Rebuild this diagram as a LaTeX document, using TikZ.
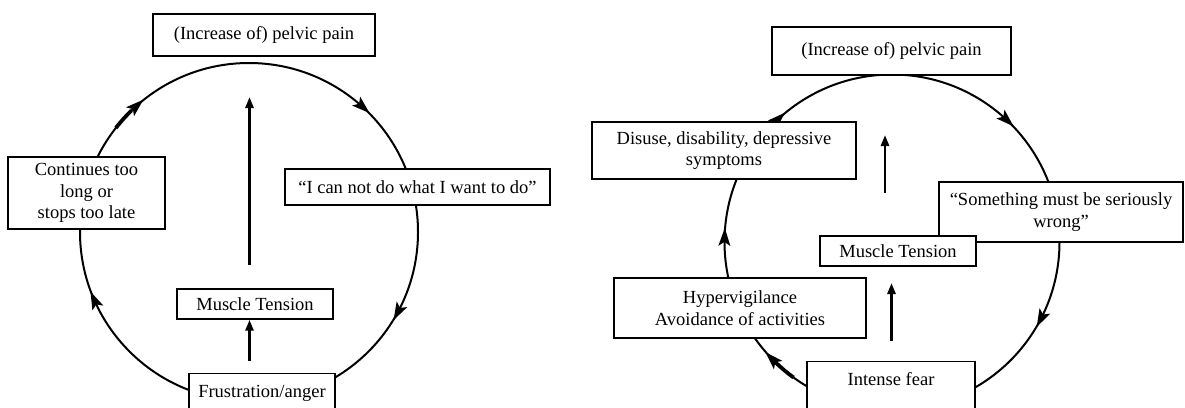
\documentclass[tikz,border=0pt]{standalone}
\usepackage{fontspec}
\setmainfont{Liberation Serif}
\usetikzlibrary{arrows.meta}
\begin{document}
\begin{tikzpicture}[x=1pt,y=-1pt,
  box/.style={draw, line width=1.4pt, fill=white, inner sep=0pt, align=center,
    font=\fontsize{18.5}{21.7}\selectfont},
  loop/.style={line width=2pt},
  tail/.style={line width=3.8pt},
  rise/.style={line width=2.6pt, -{Triangle[length=11pt,width=8pt]}}]
\clip (0,0) rectangle (1185,407);

% clockwise arrowhead on a circle of radius #3 (pt) round #1, at angle #2
\newcommand\cwhead[3]{%
  \fill[shift={(#1)}, rotate=#2]
    (#3pt,-10pt) -- (#3pt+6pt,8pt) -- (#3pt,4pt) -- (#3pt-6pt,8pt) -- cycle;}

% ---------- left cycle: frustration / anger ----------
\coordinate (L) at (249,232);
\draw[loop] (L) circle (169pt);
\foreach \a in {132,48,-28,204} { \cwhead{L}{\a}{169} }
\draw[tail] (L) ++(142:169pt) arc[start angle=142, end angle=134, radius=169pt];

\node[box, minimum width=222, minimum height=42] (painL) at (264,35) {(Increase of) pelvic pain};
\node[box, minimum width=157, minimum height=72] (cont) at (86.5,193) {Continues too\\long or\\stops too late};
\node[box, minimum width=265, minimum height=36] (cannot) at (417.5,187) {“I can not do what I want to do”};
\node[box, minimum width=156, minimum height=30] (muscL) at (255,304) {Muscle Tension};
\node[box, minimum width=146, anchor=north, text height=24pt, text depth=30pt] (frus) at (262,373) {Frustration/anger};

\coordinate (upLa) at (249.5,265);
\coordinate (upLb) at (249.5,97);
\draw[rise] (upLa) -- (upLb);
\draw[rise] (frus.north -| upLa) ++(0,-12) coordinate (sLa) -- (muscL.south -| upLa);

% ---------- right cycle: fear avoidance ----------
\coordinate (R) at (892,242);
\draw[loop] (R) circle (167.5pt);
\foreach \a in {133,47,-27,224.5,178.6} { \cwhead{R}{\a}{167.5} }
\draw[tail] (R) ++(234:167.5pt) arc[start angle=234, end angle=226, radius=167.5pt];

\node[box, minimum width=239, minimum height=48] (painR) at (891.5,51) {(Increase of) pelvic pain};
\node[box, minimum width=264, minimum height=57] (disuse) at (724,150.5) {Disuse, disability, depressive\\symptoms};
\node[box, minimum width=244, minimum height=60] (wrong) at (1061,212) {“Something must be seriously\\wrong”};
\node[box, minimum width=156, minimum height=30] (muscR) at (898,251) {Muscle Tension};
\node[box, minimum width=252, minimum height=60] (hyper) at (740,308) {Hypervigilance\\Avoidance of activities};
\node[box, minimum width=168, anchor=north, text height=24pt, text depth=30pt] (fear) at (891,361) {Intense fear};

\coordinate (upRa) at (885,193);
\coordinate (upRb) at (885,135);
\draw[rise] (upRa) -- (upRb);
\coordinate (upRc) at (891.5,341);
\coordinate (upRd) at (891.5,283);
\draw[rise] (upRc) -- (upRd);
\end{tikzpicture}
\end{document}
